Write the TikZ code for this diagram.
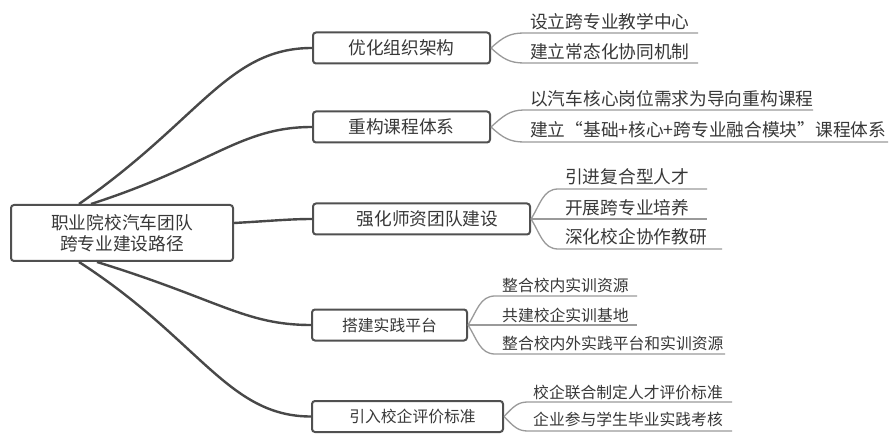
\documentclass[tikz,border=0pt]{standalone}
\usepackage{fontspec}
\setmainfont{Noto Sans CJK SC}
\definecolor{txt}{HTML}{383838}
\definecolor{boxc}{HTML}{505050}
\definecolor{trk}{HTML}{484848}
\definecolor{twg}{HTML}{9A9A9A}
\begin{document}
\begin{tikzpicture}[x=1pt,y=-1pt,
  every node/.style={font=\fontsize{17.7}{21}\selectfont, text=txt},
  small/.style={font=\fontsize{15.8}{19}\selectfont},
  rootbox/.style={draw=boxc, line width=2pt, rounded corners=3pt, minimum width=222pt, minimum height=56pt, align=center, inner sep=0pt},
  brbox/.style={draw=boxc, line width=2pt, rounded corners=3pt, minimum height=31pt, inner sep=0pt},
  leaf/.style={anchor=west, inner sep=0pt},
  trunk/.style={draw=trk, line width=2.4pt},
  twig/.style={draw=twg, line width=1.3pt}]
\useasboundingbox[fill=white] (0,0) rectangle (891,438);

% root and branches
\node[rootbox] (r) at (122,233) {职业院校汽车团队\\跨专业建设路径};
\node[brbox, minimum width=177pt] (b1) at (401.5,48) {优化组织架构};
\node[brbox, minimum width=177pt] (b2) at (401.5,127) {重构课程体系};
\node[brbox, minimum width=217pt] (b3) at (421.5,219) {\hspace{12pt}强化师资团队建设};
\node[brbox, small, minimum width=155pt] (b4) at (389.5,325) {搭建实践平台};
\node[brbox, small, minimum width=191pt] (b5) at (407.5,416.5) {\hspace{10pt}引入校企评价标准};

\draw[trunk] ([xshift=69pt]r.north west) .. controls (200,120) and (228,48) .. (b1.west);
\draw[trunk] ([xshift=81pt]r.north west) .. controls (212,165) and (240,127) .. (b2.west);
\draw[trunk] ([yshift=10pt]r.east) .. controls (270,221) and (290,219) .. (b3.west);
\draw[trunk] ([xshift=87pt]r.south west) .. controls (220,300) and (245,325) .. (b4.west);
\draw[trunk] ([xshift=69pt]r.south west) .. controls (200,340) and (228,416.5) .. (b5.west);

% branch 1
\node[leaf] (l11) at (530,22) {设立跨专业教学中心};
\node[leaf] (l12) at (530,52) {建立常态化协同机制};
\coordinate (a11) at (524,33); \coordinate (e11) at (698,33);
\coordinate (a12) at (524,63); \coordinate (e12) at (698,63);
\draw[twig] (b1.east) .. controls (503,37) and (510,33) .. (a11) -- (e11);
\draw[twig] (b1.east) .. controls (503,59) and (510,63) .. (a12) -- (e12);

% branch 2
\node[leaf] (l21) at (530,99) {以汽车核心岗位需求为导向重构课程};
\node[leaf] (l22) at (530,130) {建立“基础+核心+跨专业融合模块”课程体系};
\coordinate (a21) at (524,110); \coordinate (e21) at (813,110);
\coordinate (a22) at (524,142); \coordinate (e22) at (888,142);
\draw[twig] (b2.east) .. controls (503,116) and (510,110) .. (a21) -- (e21);
\draw[twig] (b2.east) .. controls (503,138) and (510,142) .. (a22) -- (e22);

% branch 3
\node[leaf] (l31) at (565,177) {引进复合型人才};
\node[leaf] (l32) at (565,208) {开展跨专业培养};
\node[leaf] (l33) at (565,237) {深化校企协作教研};
\coordinate (a31) at (558,189); \coordinate (e31) at (707,189);
\coordinate (e32) at (707,219);
\coordinate (a33) at (558,249); \coordinate (e33) at (722,249);
\draw[twig] (b3.east) .. controls (540,205) and (543,189) .. (a31) -- (e31);
\draw[twig] (b3.east) -- (e32);
\draw[twig] (b3.east) .. controls (540,233) and (543,249) .. (a33) -- (e33);

% branch 4
\node[leaf, small] (l41) at (502,285) {整合校内实训资源};
\node[leaf, small] (l42) at (502,315) {共建校企实训基地};
\node[leaf, small] (l43) at (502,343) {整合校内外实践平台和实训资源};
\coordinate (a41) at (495,296); \coordinate (e41) at (637,296);
\coordinate (e42) at (637,325);
\coordinate (a43) at (495,354); \coordinate (e43) at (725,354);
\draw[twig] (b4.east) .. controls (477,311) and (480,296) .. (a41) -- (e41);
\draw[twig] (b4.east) -- (e42);
\draw[twig] (b4.east) .. controls (477,339) and (480,354) .. (a43) -- (e43);

% branch 5
\node[leaf, small] (l51) at (533,392) {校企联合制定人才评价标准};
\node[leaf, small] (l52) at (533,419) {企业参与学生毕业实践考核};
\coordinate (a51) at (528,402); \coordinate (e51) at (732,402);
\coordinate (a52) at (528,431); \coordinate (e52) at (732,431);
\draw[twig] (b5.east) .. controls (514,406) and (518,402) .. (a51) -- (e51);
\draw[twig] (b5.east) .. controls (514,427) and (518,431) .. (a52) -- (e52);
\end{tikzpicture}
\end{document}
